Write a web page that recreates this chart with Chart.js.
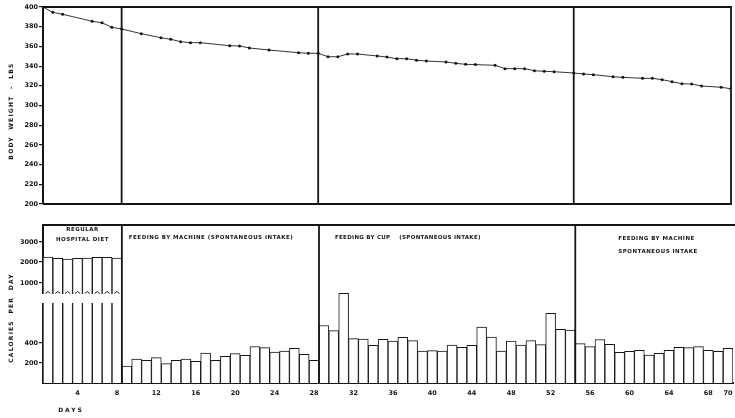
<!DOCTYPE html>
<html>
<head>
<meta charset="utf-8">
<script src="https://cdn.jsdelivr.net/npm/chart.js@4"></script>
<style>
  body { margin: 0; background: #fff; width: 735px; height: 418px; overflow: hidden; position: relative; }
  canvas { position: absolute; left: 0; }
  #weight { top: 0; }
  #cal { top: 212px; }
</style>
</head>
<body>
<canvas id="weight" width="735" height="212"></canvas>
<canvas id="cal" width="735" height="206"></canvas>
<script>
// body weight (lbs)
var weightDays = [0,1,2,5,6,7,8,10,12,13,14,15,16,19,20,21,23,26,27,28,29,30,31,32,34,35,36,37,38,39,41,42,43,44,46,47,48,49,50,51,52,54,55,56,58,59,61,62,63,64,65,66,67,69,70]
var weights = [400,394.6,392.6,385.5,384,379.4,377.7,372.9,368.8,367.2,364.8,363.8,363.8,360.7,360.4,358.4,356.3,353.6,353,353,349.5,349.5,352.3,352.3,350.3,349.2,347.5,347.5,345.9,345.2,344.2,342.8,341.8,341.5,340.8,337.4,337.4,337.4,335.3,334.7,334.3,333,332,331.3,329.2,328.6,327.6,327.6,326.2,324.2,322.1,321.8,319.8,318.5,317]
var weightTicks = [200,220,240,260,280,300,320,340,360,380,400]

// calories per day, days 1..70
var days = []
for (var d = 1; d <= 70; d++) days.push(d)
var calories = [
  2250,2180,2150,2180,2200,2230,2230,2200,
  170,240,227,253,193,227,240,217,300,227,267,293,277,363,353,310,320,347,287,227,
  575,523,897,443,440,377,437,420,457,423,320,323,320,379,357,377,560,460,320,420,380,423,383,697,537,530,
  393,363,433,387,307,317,327,280,297,327,357,353,363,327,317,347
]
var calTicks = [200,400,1000,2000,3000]
var dayTicks = [4,8,12,16,20,24,28,32,36,40,44,48,52,56,60,64,68,70]

// last day of each feeding period
var phaseEnds = [8, 28, 54]
var phaseLabels = [
  ['REGULAR', 'HOSPITAL DIET'],
  ['FEEDING BY MACHINE (SPONTANEOUS INTAKE)'],
  ['FEEDING BY CUP    (SPONTANEOUS INTAKE)'],
  ['FEEDING BY MACHINE', 'SPONTANEOUS INTAKE']
]

var ink = '#151515'
var tickFont = { family: 'DejaVu Sans', size: 6.5, weight: 'bold' }

// broken axis: 0-1000 at 10 cal/px, above 1000 at 50 cal/px
function toDisp(v) {
  return v <= 1000 ? v / 10 : 101 + (v - 1000) / 50
}

function drawText(ctx, txt, x, y, align, spacing, size) {
  ctx.save()
  ctx.fillStyle = ink
  ctx.font = 'bold ' + (size || 6) + 'px "DejaVu Sans"'
  ctx.letterSpacing = (spacing || 0.6) + 'px'
  ctx.textAlign = align
  ctx.textBaseline = 'middle'
  ctx.fillText(txt, x, y)
  ctx.restore()
}

function vText(ctx, txt, x, y) {
  ctx.save()
  ctx.translate(x, y)
  ctx.rotate(-Math.PI / 2)
  drawText(ctx, txt, 0, 0, 'center', 1.2)
  ctx.restore()
}

var weightFrame = {
  id: 'weightFrame',
  afterDraw: function(chart) {
    var ctx = chart.ctx, a = chart.chartArea, xs = chart.scales.x
    ctx.save()
    ctx.strokeStyle = ink
    ctx.lineWidth = 1.8
    ctx.beginPath()
    ctx.moveTo(a.left, a.top); ctx.lineTo(a.right, a.top); ctx.lineTo(a.right, a.bottom); ctx.lineTo(a.left, a.bottom)
    phaseEnds.forEach(function(p) {
      var x = xs.getPixelForValue(p)
      ctx.moveTo(x, a.top); ctx.lineTo(x, a.bottom)
    })
    ctx.stroke()
    ctx.restore()
    vText(ctx, 'BODY  WEIGHT  -  LBS', 11, 111)
  }
}

new Chart(document.getElementById('weight'), {
  type: 'line',
  data: {
    datasets: [{
      data: weightDays.map(function(d, i) { return { x: d, y: weights[i] } }),
      borderColor: '#333',
      borderWidth: 1,
      pointRadius: 1.5,
      pointBackgroundColor: ink,
      pointBorderWidth: 0,
      tension: 0
    }]
  },
  options: {
    responsive: false,
    animation: false,
    layout: { padding: { top: 7, right: 2, bottom: 8, left: 0 } },
    plugins: { legend: { display: false }, tooltip: { enabled: false } },
    scales: {
      x: { type: 'linear', min: 0, max: 70, display: false },
      y: {
        min: 200, max: 400,
        afterBuildTicks: function(s) { s.ticks = weightTicks.map(function(v) { return { value: v } }) },
        ticks: { font: tickFont, color: ink, padding: 1 },
        grid: { drawOnChartArea: false, tickLength: 4, color: ink, lineWidth: 1.2 },
        border: { color: ink, width: 2 },
        afterFit: function(s) { s.width = 43 }
      }
    }
  },
  plugins: [weightFrame]
})

var calFrame = {
  id: 'calFrame',
  afterDraw: function(chart) {
    var ctx = chart.ctx, a = chart.chartArea, xs = chart.scales.x, ys = chart.scales.y
    var meta = chart.getDatasetMeta(0)
    // white gap and break marks on the tall bars
    var gTop = ys.getPixelForValue(89), gBot = ys.getPixelForValue(80), mk = ys.getPixelForValue(90.5)
    ctx.save()
    meta.data.forEach(function(bar, i) {
      if (calories[i] <= 1000) return
      var w = bar.width
      ctx.fillStyle = '#fff'
      ctx.fillRect(bar.x - w / 2 - 1, gTop, w + 2, gBot - gTop)
      ctx.strokeStyle = ink
      ctx.lineWidth = 1
      ctx.beginPath()
      ctx.moveTo(bar.x - 2.5, mk + 1); ctx.lineTo(bar.x, mk - 1); ctx.lineTo(bar.x + 2.5, mk + 1)
      ctx.stroke()
    })
    // frame and phase lines
    ctx.strokeStyle = ink
    ctx.lineWidth = 1.8
    ctx.beginPath()
    ctx.moveTo(a.left, a.top); ctx.lineTo(a.right + 2, a.top)
    var bounds = [a.left]
    phaseEnds.forEach(function(p) {
      var x = (xs.getPixelForValue(p - 1) + xs.getPixelForValue(p)) / 2
      bounds.push(x)
      ctx.moveTo(x, a.top); ctx.lineTo(x, a.bottom)
    })
    ctx.stroke()
    ctx.restore()
    // period labels
    var mid = (bounds[0] + bounds[1]) / 2
    drawText(ctx, phaseLabels[0][0], mid, a.top + 5, 'center', 0.5, 5.5)
    drawText(ctx, phaseLabels[0][1], mid, a.top + 15, 'center', 0.5, 5.5)
    drawText(ctx, phaseLabels[1][0], bounds[1] + 7, a.top + 13, 'left', 0.5, 5.5)
    drawText(ctx, phaseLabels[2][0], bounds[2] + 16, a.top + 13, 'left', 0.3, 5.5)
    drawText(ctx, phaseLabels[3][0], bounds[3] + 43, a.top + 14, 'left', 0.5, 5.5)
    drawText(ctx, phaseLabels[3][1], bounds[3] + 43, a.top + 27, 'left', 0.5, 5.5)
    vText(ctx, 'CALORIES  PER  DAY', 11, 106)
    drawText(ctx, 'DAYS', 71, 198, 'center', 2)
  }
}

new Chart(document.getElementById('cal'), {
  type: 'bar',
  data: {
    labels: days.map(String),
    datasets: [{
      data: calories.map(toDisp),
      backgroundColor: '#fff',
      borderColor: ink,
      borderWidth: 1,
      borderSkipped: 'bottom',
      barPercentage: 1,
      categoryPercentage: 1
    }]
  },
  options: {
    responsive: false,
    animation: false,
    layout: { padding: { top: 13, right: 2, bottom: 0, left: 0 } },
    plugins: { legend: { display: false }, tooltip: { enabled: false } },
    scales: {
      x: {
        grid: { display: false },
        border: { color: ink, width: 2 },
        ticks: {
          autoSkip: false, maxRotation: 0, padding: -2, font: tickFont, color: ink,
          callback: function(v, i) { return dayTicks.indexOf(days[i]) >= 0 ? String(days[i]) : '' }
        },
        afterFit: function(s) { s.height = 35 }
      },
      y: {
        min: 0, max: 158,
        afterBuildTicks: function(s) { s.ticks = calTicks.map(function(v) { return { value: toDisp(v) } }) },
        ticks: { font: tickFont, color: ink, padding: 1, callback: function(v, i) { return String(calTicks[i]) } },
        grid: { drawOnChartArea: false, tickLength: 4, color: ink, lineWidth: 1.2 },
        border: { color: ink, width: 2 },
        afterFit: function(s) { s.width = 43 }
      }
    }
  },
  plugins: [calFrame]
})
</script>
</body>
</html>
